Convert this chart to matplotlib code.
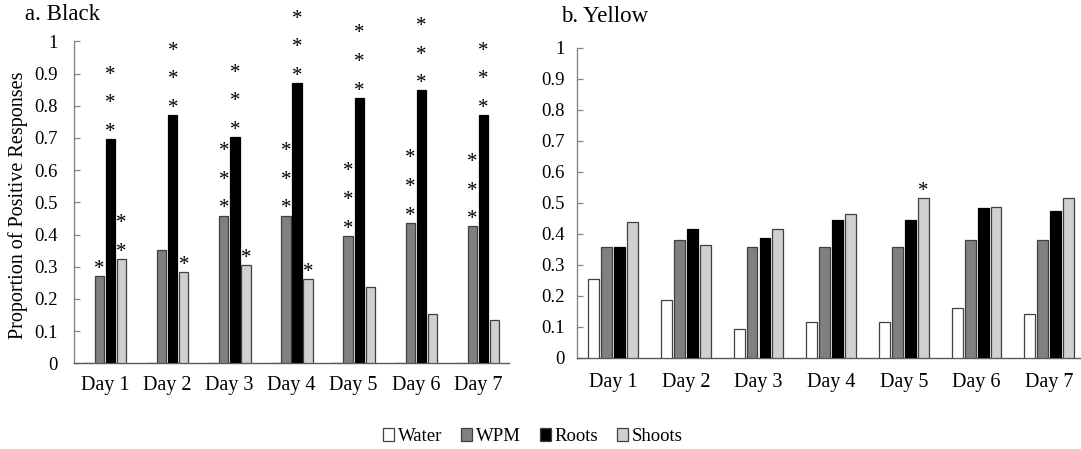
import matplotlib
matplotlib.use("Agg")
import matplotlib.pyplot as plt
from matplotlib.patches import Patch
from matplotlib.ticker import FuncFormatter, MultipleLocator
import numpy as np

plt.rcParams["font.family"] = ["Liberation Serif", "DejaVu Serif"]

# Data
days = ["Day 1", "Day 2", "Day 3", "Day 4", "Day 5", "Day 6", "Day 7"]
treatments = ["Water", "WPM", "Roots", "Shoots"]
colors = ["#ffffff", "#808080", "#000000", "#d0d0d0"]

black_water = [0, 0, 0, 0, 0, 0, 0]
black_wpm = [0.270, 0.353, 0.459, 0.459, 0.396, 0.437, 0.425]
black_roots = [0.696, 0.771, 0.703, 0.870, 0.825, 0.848, 0.771]
black_shoots = [0.325, 0.284, 0.306, 0.261, 0.238, 0.152, 0.133]

yellow_water = [0.254, 0.185, 0.092, 0.115, 0.115, 0.161, 0.141]
yellow_wpm = [0.357, 0.381, 0.357, 0.357, 0.357, 0.381, 0.381]
yellow_roots = [0.357, 0.414, 0.387, 0.445, 0.445, 0.484, 0.472]
yellow_shoots = [0.437, 0.364, 0.414, 0.464, 0.514, 0.487, 0.514]

# number of significance asterisks stacked over each bar
black_water_stars = [0, 0, 0, 0, 0, 0, 0]
black_wpm_stars = [1, 0, 3, 3, 3, 3, 3]
black_roots_stars = [3, 3, 3, 3, 3, 3, 3]
black_shoots_stars = [2, 1, 1, 1, 0, 0, 0]

yellow_water_stars = [0, 0, 0, 0, 0, 0, 0]
yellow_wpm_stars = [0, 0, 0, 0, 0, 0, 0]
yellow_roots_stars = [0, 0, 0, 0, 0, 0, 0]
yellow_shoots_stars = [0, 0, 0, 0, 1, 0, 0]

PITCH = 0.178
WIDTH = 0.15
EDGE = "#404040"
SPINE = "#868686"


def draw_panel(ax, series, stars, ypad, xpad):
    x = np.arange(len(days))
    for i, (vals, n_stars) in enumerate(zip(series, stars)):
        xs = x + (i - 1.5) * PITCH
        ax.bar(xs, vals, width=WIDTH, color=colors[i],
               edgecolor="#000000" if i == 2 else EDGE, linewidth=0.9, zorder=3)
        for xi, v, n in zip(xs, vals, n_stars):
            for k in range(n):
                ax.annotate("*", (xi, v), xytext=(0, 1.5 + k * 20.6),
                            textcoords="offset points", ha="center",
                            va="baseline", fontsize=15, annotation_clip=False)

    ax.set_xlim(-0.5, len(days) - 0.5)
    ax.set_ylim(0, 1)
    ax.set_xticks(x)
    ax.set_xticklabels(days, fontsize=14.5)
    ax.yaxis.set_major_locator(MultipleLocator(0.1))
    ax.yaxis.set_major_formatter(FuncFormatter(lambda v, p: f"{v:.1f}".rstrip("0").rstrip(".") if v else "0"))
    ax.tick_params(axis="x", length=0, pad=xpad)
    ax.tick_params(axis="y", direction="in", length=4, width=0.9,
                   color=SPINE, labelsize=13.5, pad=ypad)
    for s in ("top", "right"):
        ax.spines[s].set_visible(False)
    ax.spines["left"].set_color(SPINE)
    ax.spines["left"].set_linewidth(1.0)
    ax.spines["bottom"].set_color("#5a5a5a")
    ax.spines["bottom"].set_linewidth(1.0)


fig = plt.figure(figsize=(10.81, 4.49), dpi=100)
ax_a = fig.add_axes([74 / 1081, (449 - 363.3) / 449, 435 / 1081, 322 / 449])
ax_b = fig.add_axes([576.7 / 1081, (449 - 357.7) / 449, 509 / 1081, 310 / 449])

draw_panel(ax_a,
           [black_water, black_wpm, black_roots, black_shoots],
           [black_water_stars, black_wpm_stars, black_roots_stars, black_shoots_stars],
           ypad=12, xpad=9)
draw_panel(ax_b,
           [yellow_water, yellow_wpm, yellow_roots, yellow_shoots],
           [yellow_water_stars, yellow_wpm_stars, yellow_roots_stars, yellow_shoots_stars],
           ypad=8.5, xpad=11)

fig.text(25 / 1081, 1 - 15 / 449, "a. Black", ha="left", va="center", fontsize=16.5)
fig.text(561 / 1081, 1 - 17 / 449, "b. Yellow", ha="left", va="center", fontsize=16.5)
fig.text(18 / 1081, 1 - 205 / 449, "Proportion of Positive Responses",
         rotation=90, ha="center", va="center", fontsize=14.5)

handles = [Patch(facecolor=c, edgecolor=EDGE, linewidth=0.9) for c in colors]
fig.legend(handles, treatments, loc="center", bbox_to_anchor=(0.493, 0.027),
           ncol=4, frameon=False, fontsize=13.5, handlelength=0.6,
           handleheight=0.7, handletextpad=0.2, columnspacing=1.0)

fig.savefig("out.png", dpi=100, facecolor="white")
